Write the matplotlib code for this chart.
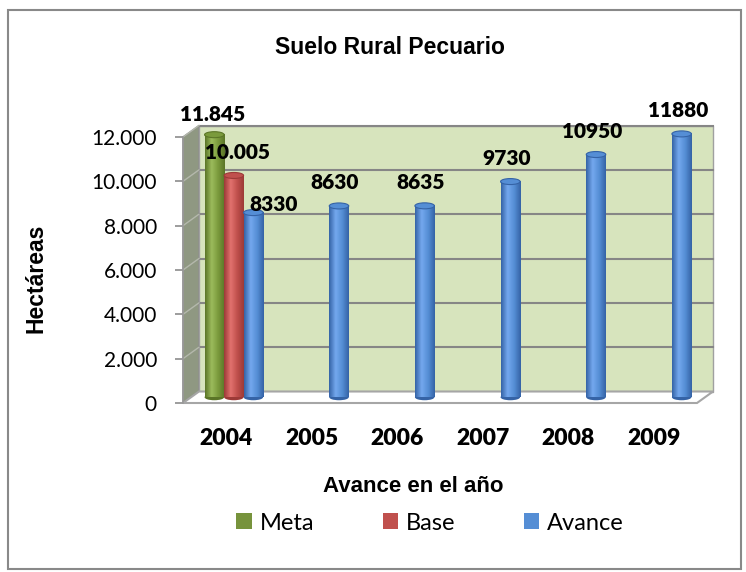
import numpy as np
import matplotlib
matplotlib.use("Agg")
import matplotlib.pyplot as plt
from matplotlib.patches import Polygon, Rectangle, Ellipse
from matplotlib.colors import LinearSegmentedColormap
from matplotlib import font_manager

# data
years = ["2004", "2005", "2006", "2007", "2008", "2009"]
meta = [11845, np.nan, np.nan, np.nan, np.nan, np.nan]
base = [10005, np.nan, np.nan, np.nan, np.nan, np.nan]
avance = [8330, 8630, 8635, 9730, 10950, 11880]
series_names = ["Meta", "Base", "Avance"]
yticks = [0, 2000, 4000, 6000, 8000, 10000, 12000]


def pick_font(names):
    for n in names:
        try:
            font_manager.findfont(n, fallback_to_default=False)
            return n
        except Exception:
            pass
    return "DejaVu Sans"


body_font = pick_font(["Lato", "Open Sans", "DejaVu Sans"])
title_font = pick_font(["Liberation Sans Narrow", "Liberation Sans", "DejaVu Sans"])
title_size = 17 if title_font == "Liberation Sans Narrow" else 16.5
plt.rcParams["font.family"] = [body_font, "DejaVu Sans"]

W, H = 746, 572
fig = plt.figure(figsize=(W / 100, H / 100), dpi=100)

# front plane of the 3d box, in pixels
left, right, bottom, top = 183, 697, 403, 137
ax = fig.add_axes([left / W, 1 - bottom / H, (right - left) / W, (bottom - top) / H])
x0, x1 = -0.5, len(years) - 0.5
ax.set_xlim(x0, x1)
ax.set_ylim(0, 12000)
ax.patch.set_visible(False)

ux = (right - left) / (x1 - x0)      # px per category
uy = (bottom - top) / 12000          # px per hectare
dx, dy = 16 / ux, 11.5 / uy          # depth of the box in data units

# walls and floor
ax.add_patch(Polygon([(x0, 0), (x0, 12000), (x0 + dx, 12000 + dy), (x0 + dx, dy)],
                     closed=True, fc="#8f9882", ec="#8a8a8a", lw=1, zorder=0, clip_on=False))
ax.add_patch(Rectangle((x0 + dx, dy), x1 - x0, 12000, fc="#d7e4bd", ec="#a0a0a0",
                       lw=1, zorder=0, clip_on=False))
ax.add_patch(Polygon([(x0, 0), (x1, 0), (x1 + dx, dy), (x0 + dx, dy)],
                     closed=True, fc="white", ec="#a6a6a6", lw=1.5, zorder=1, clip_on=False))
for v in yticks[1:]:
    ax.plot([x0 + dx, x1 + dx], [v + dy, v + dy], color="#868686", lw=1.5,
            zorder=0.5, clip_on=False)
    ax.plot([x0, x0 + dx], [v, v + dy], color="#b4b8ac", lw=1, zorder=0.5, clip_on=False)

# cylinders
shades = {
    "Meta": ("#5b7527", "#9cbc5c", "#7a9a3c"),
    "Base": ("#9c3a37", "#e2726e", "#c0504d"),
    "Avance": ("#3563a6", "#74a8ee", "#558ed5"),
}
legend_colors = {"Meta": "#77933c", "Base": "#c0504d", "Avance": "#558ed5"}
w = 19.5 / ux
step = 19.5 / ux
eh = 6 / uy


def cylinder(cx, value, name):
    dark, light, mid = shades[name]
    cmap = LinearSegmentedColormap.from_list(name, [dark, light, mid, dark])
    grad = cmap(np.linspace(0, 1, 64))[None, :, :3]
    b = dy / 2
    t = value + dy / 2
    ax.add_patch(Ellipse((cx, b), w, eh, fc=dark, ec="none", zorder=3, clip_on=False))
    ax.imshow(grad, extent=[cx - w / 2, cx + w / 2, b, t], aspect="auto",
              interpolation="bilinear", zorder=3.1, clip_on=False)
    ax.add_patch(Ellipse((cx, t), w, eh, fc=mid, ec=dark, lw=0.8, zorder=3.2, clip_on=False))
    return t


label_offsets = {("Meta", 0): (-2, 20), ("Base", 0): (4, 23), ("Avance", 0): (20, 8)}
for k, (name, vals) in enumerate(zip(series_names, [meta, base, avance])):
    for i, v in enumerate(vals):
        if np.isnan(v):
            continue
        cx = i + (k - 1) * step + dx / 2
        t = cylinder(cx, v, name)
        if name == "Avance":
            txt = str(int(v))
        else:
            txt = f"{int(v):,}".replace(",", ".")
        off = label_offsets.get((name, i), (-4, 23))
        ax.annotate(txt, (cx, t), xytext=off, textcoords="offset pixels",
                    ha="center", va="center", fontsize=15, fontweight="heavy",
                    zorder=6, annotation_clip=False)

# axes and ticks
for s in ["top", "right", "bottom"]:
    ax.spines[s].set_visible(False)
ax.spines["left"].set_color("#9a9a9a")
ax.spines["left"].set_linewidth(1.2)
ax.set_yticks(yticks)
ax.set_yticklabels([f"{v:,}".replace(",", ".") for v in yticks])
ax.tick_params(axis="y", length=5.8, width=1.2, color="#8c8c8c", pad=13, labelsize=15)
ax.set_xticks(range(len(years)))
ax.set_xticklabels(years, fontweight="heavy")
ax.tick_params(axis="x", length=0, pad=18, labelsize=16.5)

fig.text(390 / W, 1 - 48 / H, "Suelo Rural Pecuario", ha="center", va="center",
         fontsize=title_size, fontweight="bold", family=title_font)
fig.text(36 / W, 1 - 278 / H, "Hectáreas", ha="center", va="center", rotation=90,
         fontsize=title_size, fontweight="bold", family=title_font)
fig.text(413 / W, 1 - 486 / H, "Avance en el año", ha="center", va="center",
         fontsize=title_size - 0.5, fontweight="bold", family=title_font)

handles = [Rectangle((0, 0), 1, 1, fc=legend_colors[n]) for n in series_names]
fig.legend(handles, series_names, loc="center", bbox_to_anchor=(430 / W, 1 - 523 / H),
           ncol=3, frameon=False, fontsize=17, handlelength=0.64, handleheight=0.64,
           handletextpad=0.34, columnspacing=2.9)

# chart border
fig.patches.append(Rectangle((8 / W, 3 / H), 733 / W, 559 / H, transform=fig.transFigure,
                             fill=False, ec="#898989", lw=1.5))

fig.savefig("out.png", dpi=100)
